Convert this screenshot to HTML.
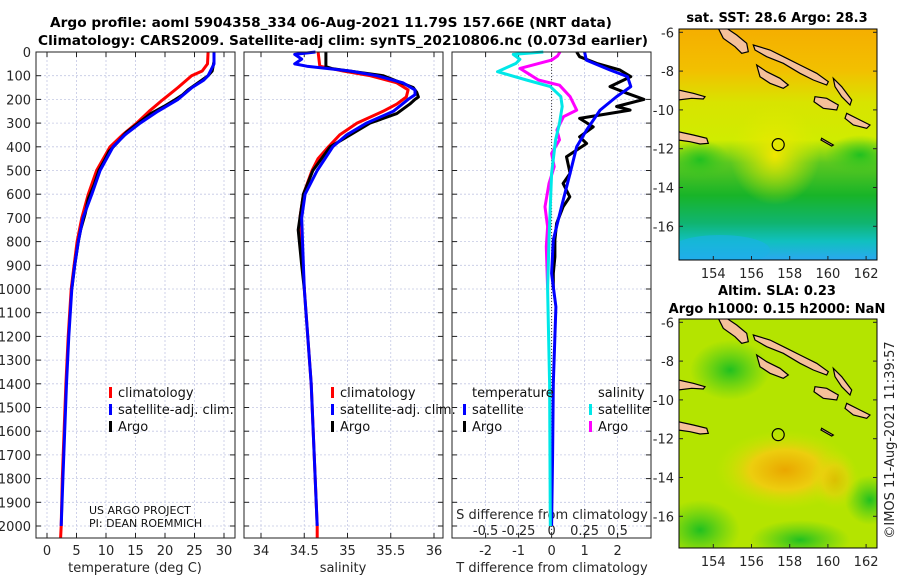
<!DOCTYPE html>
<html><head><meta charset="utf-8">
<style>
html,body{margin:0;padding:0;background:#fff;}
svg{display:block;font-family:"DejaVu Sans","Liberation Sans",sans-serif;}
.tk{font-size:13px;fill:#262626;}
.tt{font-size:13px;fill:#000;font-weight:bold;}
.tt2{font-size:13.7px;fill:#000;font-weight:bold;}
.lg{font-size:13px;fill:#111;}
</style></head><body>
<svg id="fig" width="900" height="580" viewBox="0 0 900 580">
<defs>
<linearGradient id="sstg" x1="0" y1="0" x2="0" y2="1">
<stop offset="0" stop-color="#f5ae00"/><stop offset="0.18" stop-color="#f2c000"/>
<stop offset="0.32" stop-color="#d8e400"/><stop offset="0.48" stop-color="#d0ec00"/>
<stop offset="0.58" stop-color="#5cc820"/><stop offset="0.72" stop-color="#18b428"/>
<stop offset="0.84" stop-color="#10b470"/><stop offset="0.92" stop-color="#10c0c0"/>
<stop offset="1" stop-color="#2aa8f0"/></linearGradient>
<radialGradient id="slaor" cx="0.5" cy="0.5" r="0.5">
<stop offset="0" stop-color="#f0a000"/><stop offset="0.5" stop-color="#f2cc10"/><stop offset="1" stop-color="#c8e800" stop-opacity="0"/></radialGradient>
<radialGradient id="sstyel" cx="0.5" cy="0.5" r="0.5">
<stop offset="0" stop-color="#f0e600"/><stop offset="1" stop-color="#e0ea00" stop-opacity="0"/></radialGradient>
<radialGradient id="grn" cx="0.5" cy="0.5" r="0.5">
<stop offset="0" stop-color="#20c020"/><stop offset="1" stop-color="#40c820" stop-opacity="0"/></radialGradient>
<clipPath id="c1"><rect x="679" y="29" width="198" height="231"/></clipPath>
<clipPath id="c2"><rect x="679" y="319" width="198" height="229"/></clipPath>
</defs>

<text class="tt2" x="331" y="27" text-anchor="middle">Argo profile: aoml 5904358_334 06-Aug-2021 11.79S 157.66E (NRT data)</text>
<text class="tt2" x="343" y="45" text-anchor="middle">Climatology: CARS2009. Satellite-adj clim: synTS_20210806.nc (0.073d earlier)</text>

<g id="panels"></g>

<text class="lg" x="89" y="514" style="font-size:11px">US ARGO PROJECT</text>
<text class="lg" x="89" y="527" style="font-size:11px">PI: DEAN ROEMMICH</text>

<g>
<text class="tt" x="777" y="22" text-anchor="middle">sat. SST: 28.6 Argo: 28.3</text>
<g clip-path="url(#c1)">
<rect x="679" y="29" width="198" height="231" fill="url(#sstg)"/>
<ellipse cx="775" cy="155" rx="45" ry="50" fill="url(#sstyel)"/>
<ellipse cx="700" cy="160" rx="30" ry="20" fill="url(#grn)"/>
<ellipse cx="860" cy="155" rx="35" ry="20" fill="url(#grn)"/>
<ellipse cx="720" cy="250" rx="50" ry="15" fill="#1ab0e8" opacity="0.6"/>
</g>
<g id="isl1" clip-path="url(#c1)"></g>
<rect x="679" y="29" width="198" height="231" fill="none" stroke="#000" stroke-width="1"/>
</g>
<g>
<text class="tt" x="777" y="295" text-anchor="middle">Altim. SLA: 0.23</text>
<text class="tt" x="777" y="313" text-anchor="middle">Argo h1000: 0.15 h2000: NaN</text>
<g clip-path="url(#c2)">
<rect x="679" y="319" width="198" height="229" fill="#b4e400"/>
<ellipse cx="730" cy="370" rx="40" ry="30" fill="url(#grn)"/>
<ellipse cx="700" cy="530" rx="40" ry="30" fill="url(#grn)"/>
<ellipse cx="800" cy="540" rx="50" ry="20" fill="url(#grn)"/>
<ellipse cx="870" cy="500" rx="25" ry="25" fill="url(#grn)"/>
<ellipse cx="785" cy="470" rx="70" ry="40" fill="url(#slaor)" opacity="0.9"/>
<ellipse cx="835" cy="480" rx="25" ry="30" fill="url(#slaor)" opacity="0.5"/>
</g>
<g id="isl2" clip-path="url(#c2)"></g>
<rect x="679" y="319" width="198" height="229" fill="none" stroke="#000" stroke-width="1"/>
</g>
<g id="mapticks"></g>
<text class="tk" transform="translate(894,440) rotate(-90)" text-anchor="middle">©IMOS 11-Aug-2021 11:39:57</text>
</svg>
<script>
const tClimDepth = [0,50,80,100,150,200,250,300,350,400,500,600,700,800,900,1000,1200,1400,1600,1800,2000,2050];
const tClim = [27.3,27.2,26.3,24.5,22.2,19.7,17.3,15.2,12.8,10.7,8.4,7.0,5.9,5.1,4.6,4.1,3.6,3.2,2.9,2.6,2.4,2.3];
const tSatDepth = [0,50,100,120,150,200,250,300,350,400,500,600,700,800,900,1000,1200,1400,1600,1800,2000];
const tSat = [28.3,28.3,27.3,26.5,24.6,22.2,18.8,15.8,13.2,11.2,9.0,7.6,6.1,5.3,4.7,4.2,3.7,3.3,3.0,2.7,2.4];
const tArgoDepth = [0,40,80,100,130,160,180,200,230,260,300,340,380,420,460,500,560,620,680,750,800,900,1000];
const tArgo = [28.3,28.3,28.0,27.3,25.6,23.9,23.0,21.8,19.8,17.6,15.5,13.4,12.0,10.5,9.7,8.8,8.0,7.0,6.5,5.7,5.3,4.7,4.2];

const sClimDepth = [0,60,80,100,130,160,190,220,250,300,350,400,450,500,600,700,800,1000,1400,2000,2050];
const sClim = [34.66,34.68,34.95,35.26,35.57,35.70,35.68,35.57,35.41,35.11,34.91,34.78,34.66,34.59,34.49,34.45,34.47,34.50,34.58,34.65,34.65];
const sSatDepth = [0,10,30,50,60,80,100,130,160,180,200,250,300,350,400,500,600,700,800,1000,1400,2000];
const sSat = [34.63,34.39,34.47,34.39,34.53,35.03,35.34,35.64,35.78,35.78,35.70,35.53,35.22,34.99,34.83,34.65,34.51,34.47,34.48,34.50,34.58,34.65];
const sArgoDepth = [0,62,70,100,150,170,190,200,220,260,300,400,500,600,750,900,1000];
const sArgo = [34.75,34.75,34.82,35.41,35.76,35.80,35.82,35.78,35.72,35.57,35.26,34.80,34.60,34.49,34.43,34.47,34.50];

const dTSatDepth = [0,34,76,104,146,188,245,329,400,512,653,793,934,1075,1400,1700,2000];
const dTSat = [1.0,1.05,1.77,2.3,2.4,1.97,1.47,1.06,0.76,0.56,0.30,0.05,0.0,0.13,0.05,0.03,0.0];
const dTArgoDepth = [0,20,48,76,104,146,174,200,230,245,280,316,358,386,442,512,555,611,653,723,793,864,934,1000];
const dTArgo = [0.76,0.85,1.37,2.07,2.4,1.77,2.28,2.8,1.97,2.38,0.85,1.26,0.85,1.06,0.45,0.56,0.35,0.55,0.35,0.15,0.10,0.10,0.05,0.05];
const dSSatDepth = [0,10,31,48,83,118,146,188,230,301,371,512,793,1000,1400,2000];
const dSSat = [-0.063,-0.29,-0.24,-0.27,-0.41,-0.19,-0.01,0.07,0.08,0.06,0.03,0.0,-0.02,-0.03,-0.015,-0.01];
const dSArgoDepth = [0,17,34,69,90,118,140,188,245,273,329,371,428,484,555,653,737,821,997];
const dSArgo = [0.064,0.045,0.0,-0.24,-0.18,-0.10,0.06,0.14,0.19,0.09,0.04,0.06,0.0,0.02,-0.02,-0.05,-0.03,-0.04,-0.03];

const depthTicks = [0,100,200,300,400,500,600,700,800,900,1000,1100,1200,1300,1400,1500,1600,1700,1800,1900,2000];
const tTicks = [0,5,10,15,20,25,30];
const sTicks = [34,34.5,35,35.5,36];
const sTickLabels = ['34','34.5','35','35.5','36'];
const dTTicks = [-2,-1,0,1,2];
const dSTicks = [-0.5,-0.25,0,0.25,0.5];
const dSTickLabels = ['-0.5','-0.25','0','0.25','0.5'];

const NS='http://www.w3.org/2000/svg';
const yTop=52, yBot=538;
const fy = d => yTop + d*0.237;
const fxT = t => 47 + t*5.9;
const fxS = s => 261 + (s-34)*86.5;
const fxDT = v => 551.6 + v*33;
const fxDS = v => 551.6 + v*132;
const panels=[{l:36,r:235},{l:244,r:443},{l:452,r:651}];
const root=document.getElementById('panels');
function el(tag,attrs,parent){const e=document.createElementNS(NS,tag);for(const k in attrs)e.setAttribute(k,attrs[k]);(parent||root).appendChild(e);return e;}

panels.forEach((p,i)=>{
  const g=el('g',{});
  
  
  depthTicks.forEach(d=>{
    const y=fy(d);
    const ln=el('line',{x1:p.l,x2:p.r,y1:y,y2:y,stroke:'#c4c8e4','stroke-width':0.8,'stroke-dasharray':'2,2'},g);
    
    
    el('line',{x1:p.l,x2:p.l+5,y1:y,y2:y,stroke:'#222'},g);
    el('line',{x1:p.r,x2:p.r-5,y1:y,y2:y,stroke:'#222'},g);
  });
});
function vgrid(xs){xs.forEach(x=>{
  el('line',{x1:x,x2:x,y1:yTop,y2:yBot,stroke:'#c4c8e4','stroke-width':0.8,'stroke-dasharray':'2,2'});
  el('line',{x1:x,x2:x,y1:yBot,y2:yBot-5,stroke:'#222'});
  el('line',{x1:x,x2:x,y1:yTop,y2:yTop+5,stroke:'#222'});
});}
vgrid(tTicks.map(fxT));
vgrid(sTicks.map(fxS));
vgrid(dTTicks.map(fxDT));
el('line',{x1:fxDT(0),x2:fxDT(0),y1:yTop,y2:yBot,stroke:'#444','stroke-width':1,'stroke-dasharray':'1,2'});

depthTicks.forEach(d=>{
  const t=el('text',{x:31,y:fy(d)+5,'text-anchor':'end',class:'tk'});
  t.textContent=d;
  
  
});
function xlabels(ticks,labels,f,y){ticks.forEach((v,i)=>{
  const t=el('text',{x:f(v),y:y,'text-anchor':'middle',class:'tk'});
  t.textContent=labels[i];
  
  
});}
xlabels(tTicks,tTicks.map(String),fxT,555);
xlabels(sTicks,sTickLabels,fxS,555);
xlabels(dTTicks,dTTicks.map(String),fxDT,555);
xlabels(dSTicks,dSTickLabels,fxDS,535);
[['temperature (deg C)',135,'temperature-axis-title'],['salinity',343,'salinity-axis-title'],['T difference from climatology',552,'t-diff-axis-title']].forEach(a=>{
  const t=el('text',{x:a[1],y:572,'text-anchor':'middle',class:'tk'});t.textContent=a[0];
  
  
});
{const t=el('text',{x:552,y:519,'text-anchor':'middle',class:'tk'});t.textContent='S difference from climatology';
 
 }

function series(depths,vals,fx,color,w,name){
  const pts=depths.map((d,i)=>fx(vals[i]).toFixed(1)+','+fy(d).toFixed(1)).join(' ');
  const pl=el('polyline',{points:pts,fill:'none',stroke:color,'stroke-width':w,'stroke-linejoin':'round'});
  
  
}
series(tClimDepth,tClim,fxT,'#ff0000',3,'temp-climatology-line');
series(tArgoDepth,tArgo,fxT,'#000',3,'temp-argo-line');
series(tSatDepth,tSat,fxT,'#0000ff',3,'temp-satellite-line');
series(sClimDepth,sClim,fxS,'#ff0000',3,'sal-climatology-line');
series(sArgoDepth,sArgo,fxS,'#000',3,'sal-argo-line');
series(sSatDepth,sSat,fxS,'#0000ff',3,'sal-satellite-line');
series(dTArgoDepth,dTArgo,fxDT,'#000',3,'tdiff-argo-line');
series(dTSatDepth,dTSat,fxDT,'#0000ff',3,'tdiff-satellite-line');
series(dSArgoDepth,dSArgo,fxDS,'#ff00ff',3,'sdiff-argo-line');
series(dSSatDepth,dSSat,fxDS,'#00e8e8',3,'sdiff-satellite-line');

panels.forEach(p=>{el('rect',{x:p.l,y:yTop,width:p.r-p.l,height:yBot-yTop,fill:'none',stroke:'#222','stroke-width':1});});

function legend(x,y,color,label){
  if(color) el('rect',{x:x-2,y:y-10,width:3,height:11,fill:color});
  const t=el('text',{x:x+7,y:y,class:'lg'});t.textContent=label;
  
  
}
legend(111,397,'#ff0000','climatology');legend(111,414,'#0000ff','satellite-adj. clim.');legend(111,431,'#000','Argo');
legend(333,397,'#ff0000','climatology');legend(333,414,'#0000ff','satellite-adj. clim.');legend(333,431,'#000','Argo');
legend(465,397,null,'temperature');legend(465,414,'#0000ff','satellite');legend(465,431,'#000','Argo');
legend(591,397,null,'salinity');legend(591,414,'#00e8e8','satellite');legend(591,431,'#ff00ff','Argo');

const lonTicks=[154,156,158,160,162];
const latTicks=[-6,-8,-10,-12,-14,-16];
const argoLon=157.66, argoLat=-11.79;
const fLon = lon => 713.3 + (lon-154)*19.1 - 5;
const mapTop=[32.3,322.3];
const fLat = (lat,k) => mapTop[k] + (-6-lat)*19.4;
const mt=document.getElementById('mapticks');
[0,1].forEach(k=>{
  const bottom = k===0?260:548;
  lonTicks.forEach(lo=>{
    const x=fLon(lo)+5;
    el('line',{x1:x,x2:x,y1:bottom,y2:bottom-4,stroke:'#222'},mt);
    const t=el('text',{x:x,y:bottom+18,'text-anchor':'middle',class:'tk'},mt);t.textContent=lo;
    
    
  });
  latTicks.forEach(la=>{
    const y=fLat(la,k);
    el('line',{x1:679,x2:683,y1:y,y2:y,stroke:'#222'},mt);
    el('line',{x1:877,x2:873,y1:y,y2:y,stroke:'#222'},mt);
    const t=el('text',{x:674,y:y+5,'text-anchor':'end',class:'tk'},mt);t.textContent=la;
    
    
  });
});
const islands=[
 [[175,85],[200,85],[230,105],[260,130],[265,155],[245,160],[225,140],[190,115]],
 [[280,135],[330,150],[380,175],[420,195],[470,220],[505,245],[500,255],[460,240],[420,220],[370,190],[320,170],[285,150]],
 [[290,195],[320,215],[360,235],[385,255],[370,265],[330,250],[300,230]],
 [[465,290],[500,295],[535,315],[530,330],[490,325],[462,305]],
 [[520,235],[545,260],[575,300],[570,315],[545,290],[525,260]],
 [[560,340],[600,360],[630,375],[620,385],[580,375],[555,355]],
 [[55,270],[100,280],[135,290],[130,297],[95,295],[55,300]],
 [[55,395],[100,405],[140,415],[145,430],[120,432],[90,425],[55,420]],
 [[485,415],[520,435],[515,438],[483,420]]
];
[['isl1',0],['isl2',290]].forEach(([id,off])=>{
  const g=document.getElementById(id);
  islands.forEach(poly=>{
    const pts=poly.map(p=>(660+p[0]/3).toFixed(1)+','+(p[1]/3+off).toFixed(1)).join(' ');
    const pg=el('polygon',{points:pts,fill:'#f5c09a',stroke:'#000','stroke-width':1.2},g);
    
    
  });
  const c=el('circle',{cx:fLon(argoLon),cy:fLat(argoLat,off?1:0),r:6,fill:'none',stroke:'#000','stroke-width':1.2},g);
  
  
});
</script>
</body></html>
